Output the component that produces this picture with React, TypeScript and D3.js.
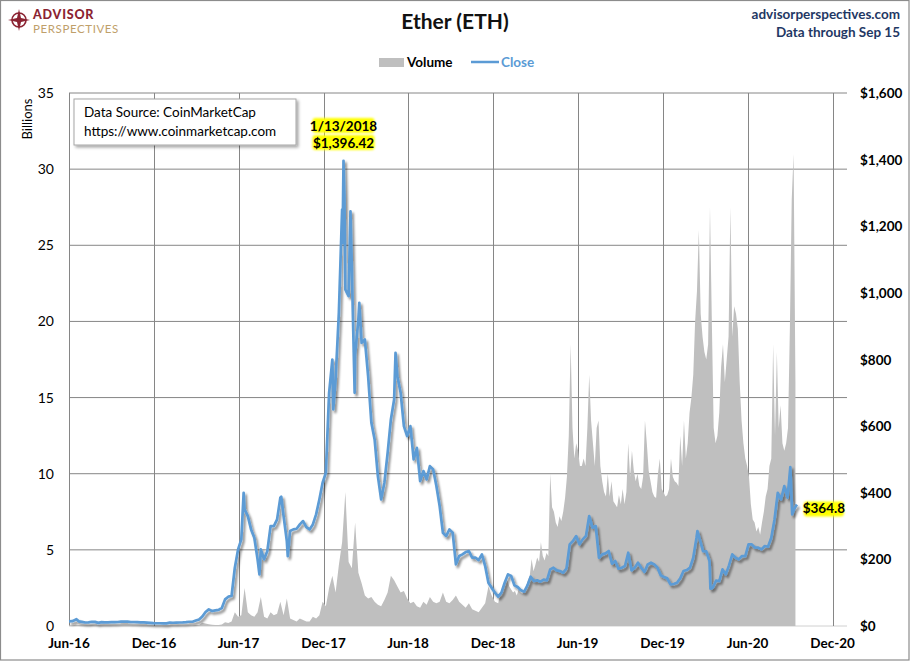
import React from 'react';
import * as d3 from 'd3';

// ---------- DATA ----------
const closeStart = '2016-06-01'; // weekly (every 7 days) closing prices, USD
const close2016 = [14, 14.5, 18.5, 14, 12.5, 10.5, 11, 12.8, 12.5, 9.5, 11.8, 11, 11, 11.6, 11.6, 12, 13, 13.2, 13.2, 12, 12, 11.5, 11, 10.7, 10, 9.5, 8.6, 8.3, 8.2, 7.6, 7.9];
const close2017 = [10.2, 9.8, 10.3, 10.5, 10.7, 11.4, 12.8, 12.7, 16.3, 19.5, 28.5, 42, 50, 45, 47, 48.5, 54, 80, 88, 90, 175, 230, 260, 350, 330, 290, 265, 200, 230, 200, 225, 300, 300, 320, 385, 330, 255, 285, 290, 292, 305, 315, 297, 290, 305, 335, 380, 430, 460, 700, 800, 740];
const close2018 = [940, 1250, 1010, 990, 1070, 815, 920, 850, 860, 750, 610, 560, 450, 380, 430, 520, 620, 680, 750, 700, 600, 570, 600, 500, 535, 435, 465, 440, 480, 470, 420, 360, 280, 270, 290, 280, 185, 210, 215, 222, 225, 205, 205, 198, 215, 180, 130, 115, 100, 88, 100, 130];
const close2019 = [155, 150, 122, 117, 107, 103, 122, 148, 135, 137, 133, 139, 137, 170, 175, 167, 165, 160, 172, 245, 255, 270, 245, 260, 270, 330, 295, 300, 205, 215, 218, 225, 187, 195, 172, 175, 180, 220, 167, 175, 190, 175, 162, 185, 190, 185, 175, 152, 147, 143, 125, 126];
const close2020 = [130, 143, 165, 168, 175, 205, 265, 260, 225, 224, 195, 115, 136, 135, 170, 155, 182, 215, 205, 200, 210, 210, 245, 245, 235, 235, 230, 240, 238, 265, 320, 400, 380, 420, 385, 440, 350];
const closeExtras: [string, number][] = [
  ['2016-06-17', 20.5], ['2017-06-12', 400], ['2017-07-16', 155], ['2017-09-01', 388], ['2017-09-15', 210],
  ['2017-12-22', 650], ['2018-01-11', 1150], ['2018-01-13', 1396.42], ['2018-01-15', 1290], ['2018-01-28', 1245],
  ['2018-02-06', 700], ['2018-02-16', 970], ['2018-05-05', 820], ['2020-02-14', 285], ['2020-03-13', 112],
  ['2020-09-01', 477], ['2020-09-05', 335], ['2020-09-15', 364.8],
];

const volWeeklyStart = '2016-06-01'; // weekly volume, billions USD
const vol2016 = [0.05, 0.04, 0.09, 0.07, 0.04, 0.03, 0.03, 0.05, 0.04, 0.03, 0.02, 0.02, 0.01, 0.02, 0.02, 0.01, 0.02, 0.02, 0.01, 0.01, 0.01, 0.01, 0.01, 0.01, 0.01, 0.01, 0.01, 0.01, 0.01, 0.01, 0.01];
const vol2017 = [0.02, 0.02, 0.02, 0.02, 0.02, 0.02, 0.03, 0.03, 0.06, 0.07, 0.22, 0.16, 0.12, 0.08, 0.06, 0.07, 0.1, 0.25, 0.2, 0.3, 0.9, 0.6, 0.7, 2.5, 0.9, 0.7, 0.6, 0.9, 1.9, 0.6, 0.5, 0.9, 0.7, 0.8, 1.6, 0.7, 1.8, 0.5, 0.4, 0.3, 0.5, 0.4, 0.3, 0.3, 0.6, 0.5, 0.7, 1.6, 1.3, 2.5, 3.3, 2.2];
const vol2018 = [4.0, 5.5, 8.8, 4.2, 3.8, 6.8, 3.5, 2.8, 2.0, 1.8, 1.9, 1.6, 1.4, 1.3, 1.7, 2.2, 3.3, 3.0, 2.6, 2.2, 2.3, 1.8, 1.5, 1.6, 1.3, 1.2, 1.6, 1.4, 1.9, 1.6, 1.5, 1.6, 2.2, 1.6, 1.5, 1.7, 2.0, 1.6, 1.4, 1.2, 1.5, 1.1, 1.0, 0.9, 1.2, 1.5, 2.6, 2.0, 1.6, 1.5, 2.4, 2.8];
const vol4DayStart = '2019-01-01'; // volume every 4 days, billions USD
const vol4Day = [
  3.0, 2.6, 2.4, 2.2, 2.3, 2.0, 2.4, 2.2, 2.1, 2.3, 2.6, 3.0, 3.3, 4.4, 3.6,
  4.0, 4.5, 4.2, 5.5, 4.6, 4.3, 4.8, 4.6,
  10.0, 7.8, 7.5, 6.8, 6.5, 7.2, 6.9,
  7.5, 8.4, 9.8, 12.5, 18.5, 13.0, 11.0, 12.0,
  11.5, 10.5, 10.5, 11.0, 10.5, 13.0, 16.5, 13.5, 12.0, 10.5, 13.0, 13.5, 10.5, 9.5, 8.8,
  8.5, 10.0, 8.5, 9.5, 8.2, 8.0, 7.8, 8.6, 8.0, 9.0, 8.0, 8.8, 12.0, 9.8, 11.5,
  10.2, 9.5, 10.0, 9.2, 9.0, 9.8, 13.5, 12.0,
  10.2, 9.5, 8.8, 8.5, 8.4, 10.0, 11.0, 9.0,
  8.8, 8.5, 8.6, 9.0, 11.0, 9.8, 9.5, 9.4,
  9.2, 12.5, 10.5, 13.5, 11.0, 12.0, 14.0, 15.0,
  16.5, 20.0, 22.0, 26.0, 20.5, 19.0, 18.0,
  17.5, 18.5, 27.5, 20.0, 13.0, 12.0, 12.5,
  14.0, 17.0, 18.5, 16.0, 17.5, 19.0, 27.5, 19.0,
  21.0, 20.5, 19.5, 16.0, 13.5, 12.0, 11.0, 10.5,
  9.8, 8.0, 7.0, 6.8, 6.2, 6.5, 6.0,
  6.8, 7.5, 8.5, 9.0, 10.5, 11.0, 18.5, 12.5,
  18.0, 13.0, 14.5, 12.0, 11.5, 12.0, 13.0, 19.5,
  28.0, 31.0, 16.0,
];

const leftTicks = [0, 5, 10, 15, 20, 25, 30, 35];
const rightTicks = [0, 200, 400, 600, 800, 1000, 1200, 1400, 1600];
const xTickDates = ['2016-06-01', '2016-12-01', '2017-06-01', '2017-12-01', '2018-06-01', '2018-12-01', '2019-06-01', '2019-12-01', '2020-06-01', '2020-12-01'];
const xTickLabels = ['Jun-16', 'Dec-16', 'Jun-17', 'Dec-17', 'Jun-18', 'Dec-18', 'Jun-19', 'Dec-19', 'Jun-20', 'Dec-20'];

// ---------- LAYOUT ----------
const W = 910, H = 661;
const PL = 69, PR = 847, PT = 93, PB = 626;
const FONT = 'Lato, "Open Sans", "DejaVu Sans", sans-serif';
const BLUE = '#5B9BD5';
const GRAY = '#BFBFBF';
const GRID = '#868686';

const parse = d3.utcParse('%Y-%m-%d');

type Pt = { date: Date; v: number };

function buildClose(): Pt[] {
  const start = parse(closeStart)!;
  const weekly = [...close2016, ...close2017, ...close2018, ...close2019, ...close2020];
  const pts: Pt[] = weekly.map((v, i) => ({ date: d3.utcDay.offset(start, 7 * i), v }));
  closeExtras.forEach(([d, v]) => pts.push({ date: parse(d)!, v }));
  pts.sort((a, b) => +a.date - +b.date);
  return pts;
}

function buildVolume(): Pt[] {
  const s1 = parse(volWeeklyStart)!;
  const weekly = [...vol2016, ...vol2017, ...vol2018];
  const a: Pt[] = weekly.map((v, i) => ({ date: d3.utcDay.offset(s1, 7 * i), v }));
  const s2 = parse(vol4DayStart)!;
  const b: Pt[] = vol4Day.map((v, i) => ({ date: d3.utcDay.offset(s2, 4 * i), v }));
  return [...a, ...b];
}

export default function App() {
  const closeData = buildClose();
  const volData = buildVolume();

  const x = d3.scaleUtc().domain([parse('2016-06-01')!, parse('2021-01-01')!]).range([PL, PR]);
  const yL = d3.scaleLinear().domain([0, 35]).range([PB, PT]);
  const yR = d3.scaleLinear().domain([0, 1600]).range([PB, PT]);

  const area = d3.area<Pt>().x(d => x(d.date)).y0(PB).y1(d => yL(d.v));
  const line = d3.line<Pt>().x(d => x(d.date)).y(d => yR(d.v));

  const peak = closeData.reduce((m, d) => (d.v > m.v ? d : m), closeData[0]);
  const last = closeData[closeData.length - 1];
  const px = x(peak.date);
  const lx = x(last.date);
  const ly = yR(last.v);

  return (
    <svg width={W} height={H} style={{ position: 'absolute', left: 0, top: 0, background: '#fff' }} fontFamily={FONT}>
      <defs>
        <filter id="lineShadow" x="-5%" y="-5%" width="110%" height="115%">
          <feDropShadow dx="2" dy="2.5" stdDeviation="1.3" floodColor="#000" floodOpacity="0.45" />
        </filter>
        <filter id="boxShadow" x="-10%" y="-20%" width="130%" height="160%">
          <feDropShadow dx="2" dy="2" stdDeviation="1.5" floodColor="#000" floodOpacity="0.35" />
        </filter>
        <filter id="glow" x="-20%" y="-40%" width="140%" height="180%">
          <feGaussianBlur stdDeviation="0.8" />
        </filter>
      </defs>
      <rect x={0.5} y={0.5} width={W - 1.5} height={H - 1.5} fill="#fff" stroke="#8C8C8C" strokeWidth={1.2} />

      {/* logo */}
      <g>
        <circle cx={19} cy={20} r={7} fill="none" stroke="#8B2332" strokeWidth={1.6} />
        <path d="M19,9 L21,18 L30,20 L21,22 L19,31 L17,22 L8,20 L17,18 Z" fill="#8B2332" />
        <circle cx={19} cy={20} r={2.2} fill="#8B2332" />
        <text x={33} y={18.5} fontSize={12.5} fontWeight={900} fill="#8B2332" letterSpacing={0.8}>ADVISOR</text>
        <text x={33} y={33} fontSize={11.5} fill="#BFA06A" letterSpacing={0.6}>PERSPECTIVES</text>
      </g>

      {/* title */}
      <text x={455} y={29} textAnchor="middle" fontSize={21} fontWeight={700} fill="#111">Ether (ETH)</text>
      <text x={900} y={19} textAnchor="end" fontSize={13.5} fontWeight={700} fill="#1F3864">advisorperspectives.com</text>
      <text x={900} y={37} textAnchor="end" fontSize={13.5} fontWeight={700} fill="#1F3864">Data through Sep 15</text>

      {/* legend */}
      <rect x={379} y={58} width={25} height={9} fill={GRAY} />
      <text x={407} y={67} fontSize={13.5} fontWeight={700} fill="#000">Volume</text>
      <line x1={471} x2={499} y1={62} y2={62} stroke={BLUE} strokeWidth={2.5} />
      <text x={501} y={67} fontSize={13.5} fontWeight={700} fill={BLUE}>Close</text>

      {/* grid */}
      {leftTicks.map(t => (
        <line key={'h' + t} x1={PL} x2={PR} y1={yL(t)} y2={yL(t)} stroke={t === 0 ? '#D0D0D0' : GRID} strokeWidth={1} />
      ))}
      {xTickDates.map(d => {
        const xx = Math.round(x(parse(d)!)) + 0.5;
        return <line key={'v' + d} x1={xx} x2={xx} y1={PT} y2={PB} stroke={GRID} strokeWidth={1} />;
      })}

      {/* volume */}
      <path d={area(volData) || ''} fill={GRAY} />

      {/* close line */}
      <path d={line(closeData) || ''} fill="none" stroke={BLUE} strokeWidth={2.7} strokeLinejoin="round" filter="url(#lineShadow)" />

      {/* left axis labels */}
      {leftTicks.map(t => (
        <text key={'l' + t} x={54} y={yL(t) + 5} textAnchor="end" fontSize={14} fill="#000">{t}</text>
      ))}
      <text transform="translate(32,119) rotate(-90)" textAnchor="middle" fontSize={13} fill="#000">Billions</text>

      {/* right axis labels */}
      {rightTicks.map(t => (
        <text key={'r' + t} x={860} y={yR(t) + 5} fontSize={13.5} fontWeight={700} fill="#000">{d3.format('$,')(t)}</text>
      ))}

      {/* x axis labels */}
      {xTickDates.map((d, i) => (
        <text key={'x' + d} x={x(parse(d)!)} y={648} textAnchor="middle" fontSize={13.5} fontWeight={700} fill="#000">{xTickLabels[i]}</text>
      ))}

      {/* data source box */}
      <rect x={74} y={99} width={222} height={46} fill="#fff" stroke="#A6A6A6" strokeWidth={1} filter="url(#boxShadow)" />
      <text x={84} y={117} fontSize={13.5} fill="#000">Data Source: CoinMarketCap</text>
      <text x={84} y={136} fontSize={13.5} fill="#000">https://www.coinmarketcap.com</text>

      {/* peak annotation */}
      <rect x={px - 31} y={118} width={62} height={15} rx={3} fill="#FFFF00" filter="url(#glow)" />
      <rect x={px - 31} y={135} width={62} height={15} rx={3} fill="#FFFF00" filter="url(#glow)" />
      <text x={px} y={130.5} textAnchor="middle" fontSize={13.5} fontWeight={700} fill="#000">{d3.utcFormat('%-m/%-d/%Y')(peak.date)}</text>
      <text x={px} y={147.5} textAnchor="middle" fontSize={13.5} fontWeight={700} fill="#000">{d3.format('$,.2f')(peak.v)}</text>

      {/* last value annotation */}
      <rect x={lx + 7} y={ly - 3} width={40} height={15} rx={3} fill="#FFFF00" filter="url(#glow)" />
      <text x={lx + 27} y={ly + 9} textAnchor="middle" fontSize={13.5} fontWeight={700} fill="#000">{'$' + last.v}</text>
    </svg>
  );
}
